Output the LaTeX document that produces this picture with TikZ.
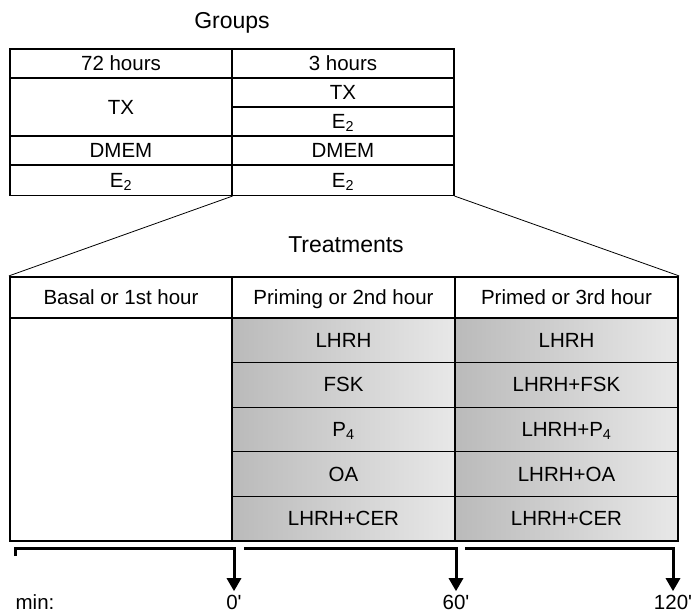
\documentclass[tikz,border=0pt]{standalone}
\usepackage{fontspec}
\setmainfont{Liberation Sans}
\usetikzlibrary{arrows.meta}

\tikzset{
  cell/.style={draw, line width=1.1pt, inner sep=0pt, minimum width=222pt, minimum height=#1,
    text height=14pt, text depth=0pt},
  headcell/.style={cell=#1, line width=2.2pt},
  dose/.style={draw, line width=1.1pt, inner sep=0pt, minimum width=223pt, minimum height=44.6pt,
    text height=14pt, text depth=0pt, left color=black!27, right color=black!9},
  timebar/.style={line width=3pt, -{Triangle[width=14pt,length=13pt]}},
  txt/.style={font=\fontsize{20.5}{24}\selectfont},
  title/.style={font=\fontsize{23}{26}\selectfont}
}

\begin{document}
\begin{tikzpicture}[x=1pt,y=-1pt, every node/.style={txt}]
\useasboundingbox (0,0) rectangle (692,614);

\node[title] (groups) at (232,23) {Groups};
\node[headcell=29pt] (h72) at (121,63.5) {72 hours};
\node[headcell=29pt] (h3) at (343,63.5) {3 hours};
\node[cell=58pt] (tx72) at (121,107) {TX};
\node[cell=29pt] (tx3) at (343,92.5) {TX};
\node[cell=29pt] (ea3) at (343,121.5) {E\textsubscript{2}};
\node[cell=29pt] (dm72) at (121,150.5) {DMEM};
\node[cell=29pt] (dm3) at (343,150.5) {DMEM};
\node[cell=30pt] (eb72) at (121,180.5) {E\textsubscript{2}};
\node[cell=30pt] (eb3) at (343,180.5) {E\textsubscript{2}};

\node[title] (treat) at (346,245) {Treatments};
\node[headcell=41pt] (basal) at (121,297.5) {Basal or 1st hour};
\node[headcell=41pt, minimum width=223pt] (priming) at (343.5,297.5) {Priming or 2nd hour};
\node[headcell=41pt, minimum width=223pt] (primed) at (566.5,297.5) {Primed or 3rd hour};
\node[cell=223pt] (empty) at (121,429.5) {};

\foreach \i/\a/\b in {0/LHRH/LHRH, 1/FSK/LHRH+FSK, 2/P\textsubscript{4}/LHRH+P\textsubscript{4},
    3/OA/LHRH+OA, 4/LHRH+CER/LHRH+CER} {
  \node[dose] (pa\i) at (343.5,{340.3+44.6*\i}) {\a};
  \node[dose] (pb\i) at (566.5,{340.3+44.6*\i}) {\b};
}

\draw[line width=0.8pt] (eb72.south east) -- (basal.north west);
\draw[line width=0.8pt] (eb3.south east) -- (primed.north east);

\node (min) at (35,602) {min:};
\node (t0) at (234,602) {0\textquotesingle};
\node (t60) at (456,602) {60\textquotesingle};
\node (t120) at (673,602) {120\textquotesingle};

\draw[timebar] (15,556) |- (234,548) -- (t0.north);
\draw[timebar] (244,548) -| (t60.north);
\draw[timebar] (465,548) -| (t120.north);
\end{tikzpicture}
\end{document}
